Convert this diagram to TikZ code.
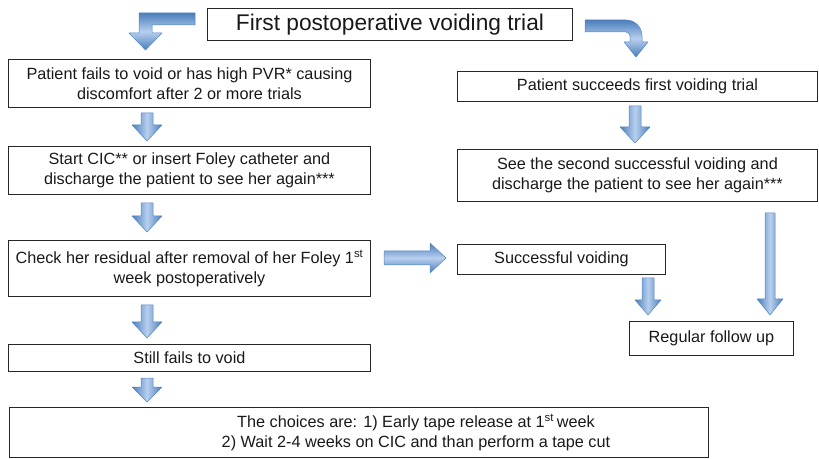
\documentclass[tikz,border=0pt]{standalone}
\usepackage{fontspec}
\setmainfont{Liberation Sans}
\usetikzlibrary{calc}

\definecolor{abEdge}{HTML}{4A7EBB}
\definecolor{abLight}{HTML}{B7CFEE}
\definecolor{abLine}{HTML}{5584C2}

\tikzset{
  flowbox/.style={draw=black!85, line width=0.9bp, anchor=north west, inner sep=0pt,
    align=center, font=\fontsize{16.3}{20.5}\selectfont, text=black!90},
  flowtext/.style={inner sep=0pt, align=center, font=\fontsize{16.3}{20.5}\selectfont, text=black!90},
  vshade/.style={left color=abEdge, right color=abEdge, middle color=abLight,
    draw=abLine, line width=0.5bp, line join=round},
  hshade/.style={top color=abEdge, bottom color=abEdge, middle color=abLight,
    draw=abLine, line width=0.5bp, line join=round},
}

% downward block arrow: x centre, top of shaft, tip, shaft half-width, head half-width, head length
\newcommand\vblock[6]{%
  \path[vshade] ({#1-#4},#2) -- ({#1+#4},#2) -- ({#1+#4},{#3-#6}) -- ({#1+#5},{#3-#6})
    -- (#1,#3) -- ({#1-#5},{#3-#6}) -- ({#1-#4},{#3-#6}) -- cycle;}

\begin{document}
\begin{tikzpicture}[x=1bp, y=-1bp]
\useasboundingbox (0,0) rectangle (819,459);

% boxes
\node[flowbox, minimum width=365bp, minimum height=32bp, font=\fontsize{22.8}{26}\selectfont]
  (title) at (207,8) {First postoperative voiding trial};
\node[flowbox, minimum width=362bp, minimum height=48bp] (fail) at (8,59)
  {Patient fails to void or has high PVR* causing\\discomfort after 2 or more trials};
\node[flowbox, minimum width=362bp, minimum height=48bp] (cic) at (8,146)
  {Start CIC** or insert Foley catheter and\\discharge the patient to see her again***};
\node[flowbox, minimum width=362bp, minimum height=56bp] (check) at (8,240)
  {Check her residual after removal of her Foley 1\textsuperscript{st}\\week postoperatively};
\node[flowbox, minimum width=362bp, minimum height=27bp] (still) at (8,344)
  {Still fails to void};
\node[flowbox, minimum width=699bp, minimum height=50bp] (choice) at (9,407) {};
\node[flowtext] (choicetext) at ($(choice.center)+(57,0)$)
  {The choices are: 1) Early tape release at 1\textsuperscript{st}\,week\\2) Wait 2-4 weeks on CIC and than perform a tape cut};
\node[flowbox, minimum width=360bp, minimum height=30bp] (succ) at (457,71)
  {Patient succeeds first voiding trial};
\node[flowbox, minimum width=360bp, minimum height=52bp] (second) at (457,149)
  {See the second successful voiding and\\discharge the patient to see her again***};
\node[flowbox, minimum width=208bp, minimum height=30bp] (sv) at (457,244)
  {Successful voiding};
\node[flowbox, minimum width=164bp, minimum height=34bp] (reg) at (629,321)
  {Regular follow up};

% bent arrow from the title to the left branch
\path[hshade] (195,13) -- (139,13) -- (139,33) -- (129,33) -- (145.5,50) -- (162,33)
  -- (152,33) -- (152,25) -- (195,25) -- cycle;
% curved arrow from the title to the right branch
\path[hshade] (585,20) -- (626,20) .. controls (635,20) and (642,27) .. (642,36)
  -- (642,42) -- (648,42) -- (636,57) -- (624,42) -- (630,42) -- (630,36)
  .. controls (630,34) and (628,32) .. (626,32) -- (585,32) -- cycle;

% left column
\vblock{147}{113}{141}{6}{15}{16}
\vblock{147}{203}{232}{6}{15}{16}
\vblock{147}{305}{338}{6}{15}{16}
\vblock{147}{378}{402}{6}{15}{15}

% right column
\vblock{635}{106}{143}{6}{15}{16}
\vblock{648}{278}{315}{6}{13}{15}
\vblock{770}{213}{315}{5}{13}{16}

% horizontal arrow to "Successful voiding"
\path[hshade] (384,251) -- (430,251) -- (430,243) -- (446,258) -- (430,273)
  -- (430,265) -- (384,265) -- cycle;
\end{tikzpicture}
\end{document}
